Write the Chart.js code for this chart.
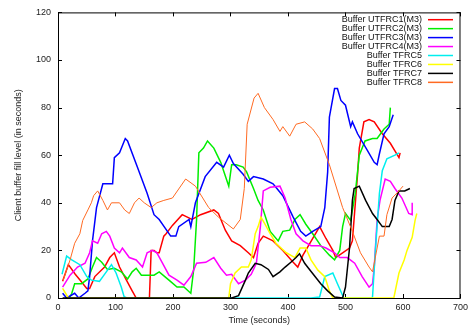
<!DOCTYPE html>
<html>
<head>
<meta charset="utf-8">
<style>
  html, body { margin: 0; padding: 0; background: #fff; }
  canvas { display: block; }
</style>
<script src="https://cdn.jsdelivr.net/npm/chart.js@4.4.1/dist/chart.umd.min.js"></script>
</head>
<body>
<canvas id="bufferChart" width="472" height="326"></canvas>
<script>
// series names, in gnuplot order
const seriesNames = ['Buffer UTFRC1(M3)', 'Buffer UTFRC2(M3)', 'Buffer UTFRC3(M3)', 'Buffer UTFRC4(M3)',
    'Buffer TFRC5', 'Buffer TFRC6', 'Buffer TFRC7', 'Buffer TFRC8'];
const seriesColors = ['#ff0000', '#00ee00', '#0000ff', '#ff00ff', '#00eeee', '#ffff00', '#000000', '#ff6a22'];

const xTicks = [0, 100, 200, 300, 400, 500, 600, 700];
const yTicks = [0, 20, 40, 60, 80, 100, 120];

// time (s) / buffer level (s)
const timeC1 = [8, 18, 30, 40, 50, 55, 64, 81, 90, 98, 107, 119, 129, 136, 159, 162, 167, 172, 176, 184, 188, 199, 216, 233, 248, 271, 279, 291, 302, 317, 331, 340, 348, 357, 374, 391, 409, 417, 426, 438, 455, 466, 478, 483, 495, 507, 512, 521, 524, 532, 541, 550, 564, 578, 593, 595];
const bufC1 = [7, 14, 10, 7, 4, 4, 9, 13, 17, 19, 13, 7.5, 3, 0, 0, 20, 20, 19, 19, 26, 27, 30.5, 35, 33, 35, 37, 35.5, 28.5, 24, 22, 19, 17, 23, 26, 24, 20, 15, 13, 18, 23, 30, 25, 20, 17, 19, 21, 24, 52, 63, 74, 75, 74, 69, 65, 59, 61];

const timeC2 = [20, 24, 29, 41, 52, 60, 67, 76, 86, 98, 110, 121, 129, 136, 145, 155, 167, 176, 193, 207, 219, 231, 236, 241, 245, 253, 260, 271, 283, 297, 302, 310, 322, 328, 340, 348, 357, 369, 383, 391, 403, 412, 421, 431, 443, 457, 472, 481, 490, 495, 500, 509, 517, 524, 534, 547, 555, 567, 576, 578];
const bufC2 = [0, 2, 6, 6, 8, 13, 17, 15, 12, 12.5, 11, 8, 11, 12.5, 9.6, 9.6, 9.6, 11, 7.5, 4.6, 4.6, 2, 12, 33, 61, 63, 66, 63, 57, 47, 56, 56, 55, 53, 46, 41, 37, 28, 24, 28, 28.5, 33, 35, 31, 27, 22, 18, 16, 20, 30, 35.5, 32.6, 44, 60, 66, 67, 67, 71, 73, 80];

const timeC3 = [8, 15, 29, 36, 47, 52, 55, 60, 67, 78, 95, 98, 107, 117, 121, 138, 155, 167, 176, 196, 205, 210, 228, 231, 239, 256, 276, 288, 298, 305, 322, 331, 340, 357, 374, 391, 409, 422, 431, 443, 457, 464, 469, 472, 481, 486, 492, 500, 509, 512, 521, 538, 550, 555, 559, 567, 576, 583];
const bufC3 = [2, 0, 2, 0, 2, 3, 9, 24, 38, 48, 48, 59, 61, 67, 66, 55, 44, 35, 33, 26, 26, 30, 33, 30, 40, 51, 57, 55, 60, 56.5, 52, 49, 51, 50, 48, 43, 34, 28, 26, 28, 30, 38, 53, 76, 88, 88, 83, 81, 72, 74, 69, 62, 57, 56, 60.6, 69, 72, 77];

const timeC4 = [8, 21, 34, 47, 55, 60, 69, 76, 84, 90, 98, 107, 112, 124, 136, 147, 155, 164, 172, 181, 193, 207, 219, 231, 241, 257, 271, 283, 293, 302, 314, 326, 336, 345, 352, 357, 369, 386, 395, 405, 414, 426, 440, 455, 466, 481, 490, 503, 516, 529, 541, 547, 550, 552, 555, 560, 569, 578, 586, 598, 610, 616, 616];
const bufC4 = [4.6, 9.6, 13, 14.6, 19, 24, 23, 27, 28, 26, 21, 19, 21, 17, 16, 13, 19, 20, 19, 15, 9.6, 7.5, 5.4, 9, 14.6, 15, 17, 12.5, 9.6, 10, 6, 7.5, 10, 14.6, 30, 45, 46.5, 47, 42, 33, 27, 24, 22, 22, 21, 19, 17, 17, 14.6, 9, 4.6, 6, 13, 21, 33, 41, 50, 49, 46, 42, 35.5, 35, 40];

const timeC5 = [7, 15, 24, 38, 50, 58, 72, 84, 93, 101, 110, 115, 120, 440, 455, 464, 478, 486, 497, 545, 547, 552, 559, 564, 572, 586, 593];
const bufC5 = [10, 17.6, 16, 14, 9, 7.5, 7, 11, 14, 10.5, 4.6, 0.5, 0, 0, 0.4, 9, 10.5, 6, 0, 0, 0.4, 20, 44, 53.5, 58.5, 60, 61];

const timeC6 = [8, 18, 297, 300, 308, 319, 331, 336, 343, 348, 353, 360, 369, 379, 397, 412, 421, 431, 440, 452, 464, 472, 478, 584, 593, 602, 607, 616, 621, 624];
const bufC6 = [4, 0, 0, 6, 10.5, 13, 13, 16, 27, 30, 34, 31, 27, 23, 19, 17, 21, 21, 16, 11.7, 9, 3, 0, 0, 10.5, 16, 20, 25.5, 32.6, 35.5];

const timeC7 = [8, 302, 314, 326, 331, 343, 353, 366, 374, 386, 395, 405, 414, 420, 429, 434, 447, 457, 469, 481, 495, 500, 507, 512, 515, 524, 535, 547, 555, 564, 576, 581, 586, 593, 603, 612];
const bufC7 = [0, 0, 1, 7.5, 10.5, 14.6, 14, 12, 9, 11, 13, 15, 17, 18.6, 14.6, 13, 9, 6, 3, 0.4, 0, 4.6, 21, 41, 46, 47, 41, 35.5, 33, 30, 30, 33, 41, 45, 45, 46];

const timeC8 = [9, 21, 29, 38, 43, 52, 58, 62, 69, 78, 86, 93, 107, 116, 124, 133, 141, 150, 162, 172, 184, 199, 222, 239, 262, 279, 305, 317, 324, 329, 341, 348, 359, 374, 386, 391, 403, 414, 429, 443, 455, 472, 495, 512, 526, 541, 547, 559, 567, 572, 581, 593, 600];
const bufC8 = [7.5, 16, 23, 27, 32.6, 37, 40, 43, 45, 41, 37, 40, 40, 37, 35.5, 40, 42, 40, 38, 40, 41, 42, 50, 47, 38, 34, 29, 33, 46, 73, 84, 86, 80, 75, 70, 72, 68, 73, 74, 71, 67, 56, 38, 28, 19, 13, 11, 26, 26, 35, 42, 45, 47];

const allTimes = [timeC1, timeC2, timeC3, timeC4, timeC5, timeC6, timeC7, timeC8];
const allBufs = [bufC1, bufC2, bufC3, bufC4, bufC5, bufC6, bufC7, bufC8];

const FONT = '"Liberation Sans", Arial, sans-serif';

// gnuplot-style box with inward ticks on all four sides
const framePlugin = {
    id: 'frame',
    beforeDatasetsDraw(chart) {
        const { ctx, chartArea: a, scales } = chart;
        ctx.save();
        ctx.strokeStyle = '#000';
        ctx.lineWidth = 1;
        ctx.strokeRect(a.left + 0.5, a.top + 0.5, a.right - a.left - 1, a.bottom - a.top);
        ctx.beginPath();
        xTicks.forEach(v => {
            const px = Math.round(scales.x.getPixelForValue(v)) + 0.5;
            ctx.moveTo(px, a.bottom); ctx.lineTo(px, a.bottom - 4);
            ctx.moveTo(px, a.top); ctx.lineTo(px, a.top + 4);
        });
        yTicks.forEach(v => {
            const py = Math.round(scales.y.getPixelForValue(v)) + 0.5;
            ctx.moveTo(a.left, py); ctx.lineTo(a.left + 4, py);
            ctx.moveTo(a.right, py); ctx.lineTo(a.right - 4, py);
        });
        ctx.stroke();
        ctx.restore();
    },
    afterDatasetsDraw(chart) {
        // key in the top right corner: text first, then line sample
        const { ctx } = chart;
        ctx.save();
        ctx.font = '9px ' + FONT;
        ctx.textAlign = 'right';
        ctx.textBaseline = 'middle';
        seriesNames.forEach((name, i) => {
            const yy = 19.7 + i * 8.95;
            ctx.fillStyle = '#111';
            ctx.fillText(name, 422, yy);
            ctx.strokeStyle = seriesColors[i];
            ctx.lineWidth = 1.5;
            ctx.beginPath();
            ctx.moveTo(428, yy);
            ctx.lineTo(453, yy);
            ctx.stroke();
        });
        ctx.restore();
    }
};

const datasets = seriesNames.map((name, i) => ({
    label: name,
    data: allTimes[i].map((t, k) => ({ x: t, y: allBufs[i][k] })),
    borderColor: seriesColors[i],
    borderWidth: i === 7 ? 1 : 1.5,
    pointRadius: 0,
    tension: 0,
    fill: false,
    order: 7 - i
}));

new Chart(document.getElementById('bufferChart').getContext('2d'), {
    type: 'line',
    data: { datasets: datasets },
    options: {
        responsive: false,
        animation: false,
        layout: { padding: { top: 11, right: 8, left: 0, bottom: 0 } },
        plugins: {
            legend: { display: false },
            tooltip: { enabled: false }
        },
        scales: {
            x: {
                type: 'linear',
                min: 0,
                max: 700,
                afterBuildTicks: s => { s.ticks = xTicks.map(v => ({ value: v })); },
                afterFit: s => { s.height = 28; },
                grid: { display: false, drawTicks: false },
                border: { display: false },
                ticks: { color: '#222', font: { family: FONT, size: 9 }, padding: 4, maxRotation: 0 },
                title: { display: true, text: 'Time (seconds)', color: '#222', font: { family: FONT, size: 9 }, padding: 0 }
            },
            y: {
                type: 'linear',
                min: 0,
                max: 120,
                afterBuildTicks: s => { s.ticks = yTicks.map(v => ({ value: v })); },
                afterFit: s => { s.width = 58; },
                grid: { display: false, drawTicks: false },
                border: { display: false },
                ticks: { color: '#222', font: { family: FONT, size: 9 }, padding: 7 },
                title: { display: true, text: 'Client buffer fill level (in seconds)', color: '#222', font: { family: FONT, size: 9 }, padding: { top: 13, bottom: 0 } }
            }
        }
    },
    plugins: [framePlugin]
});
</script>
</body>
</html>
